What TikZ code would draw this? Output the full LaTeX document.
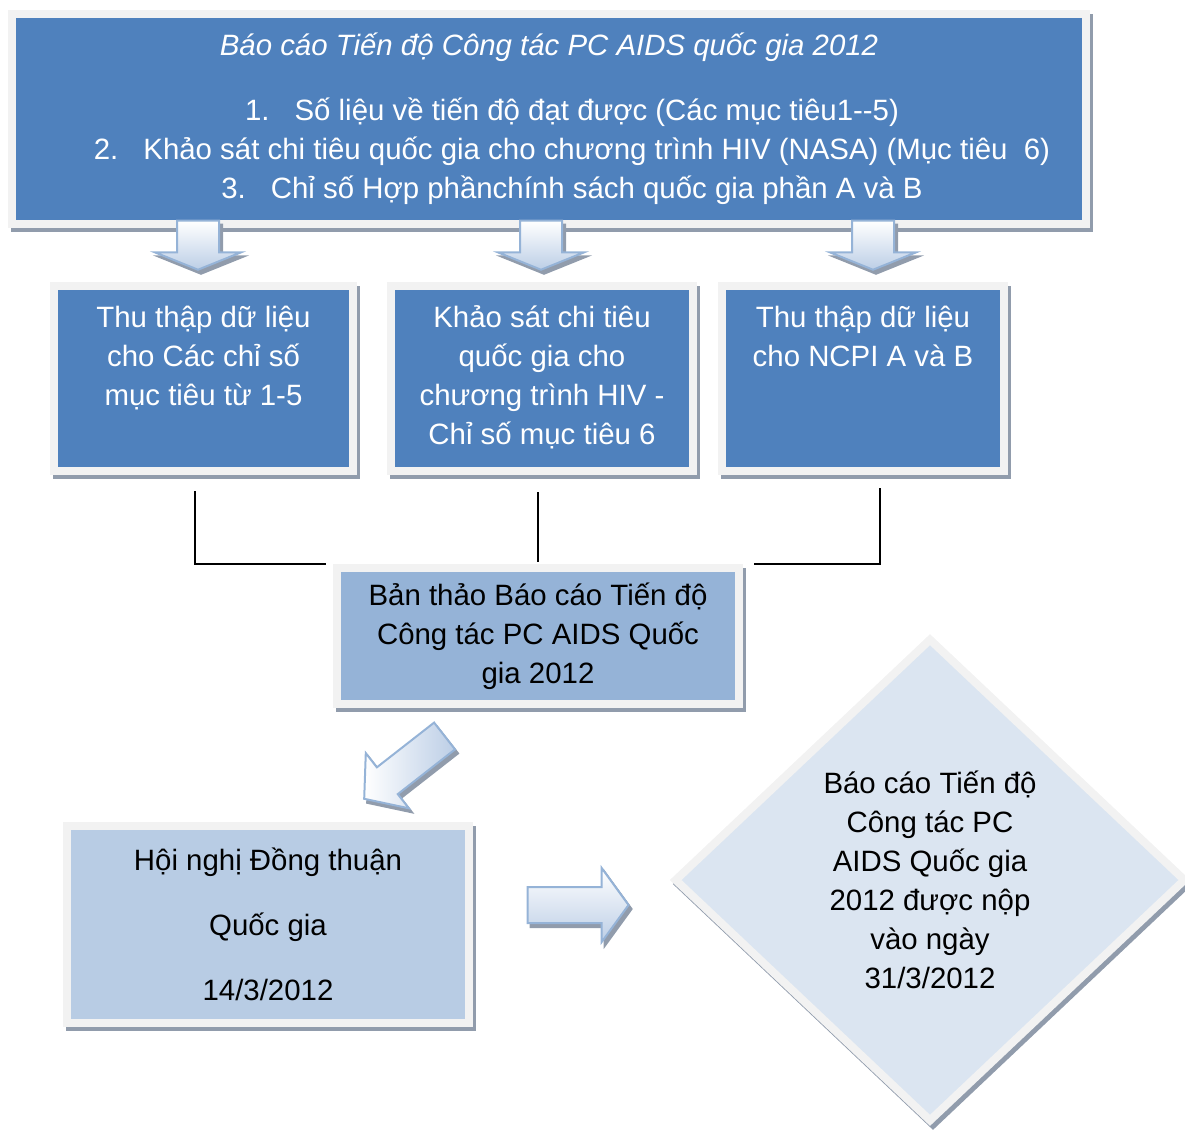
\documentclass[tikz,border=0pt]{standalone}
\usepackage{fontspec}
\setmainfont{Liberation Sans}
\usepackage{xcolor}
\usepackage{tikz}
\usetikzlibrary{shapes,arrows,positioning,calc}

\definecolor{reportblue}{RGB}{79,129,189}
\definecolor{draftblue}{RGB}{149,179,215}
\definecolor{meetblue}{RGB}{184,204,228}
\definecolor{finalblue}{RGB}{219,229,241}
\definecolor{rimgray}{RGB}{242,242,242}
\definecolor{shadegray}{RGB}{145,156,172}
\definecolor{arrowedge}{RGB}{149,179,215}
\definecolor{arrowfill}{RGB}{188,206,230}

\begin{document}
\begin{tikzpicture}[
    x=1pt, y=-1pt,
    box/.style={rectangle, draw=rimgray, line width=8pt, inner sep=0pt,
                font=\fontsize{29.4}{39}\selectfont,
                preaction={draw=shadegray, fill=shadegray, line width=8pt,
                           transform canvas={xshift=3pt, yshift=-4pt}}},
    topbox/.style={box, fill=reportblue, text=white, align=center,
                   minimum width=1074pt, minimum height=210pt},
    midbox/.style={box, fill=reportblue, text=white,
                   execute at begin node={\begin{minipage}[t][185pt][t]{#1}\centering\vspace*{14pt}\strut},
                   execute at end node={\end{minipage}}},
    draftbox/.style={box, fill=draftblue, align=center,
                     minimum width=402pt, minimum height=136pt},
    meetbox/.style={box, fill=meetblue, align=center,
                    minimum width=402pt, minimum height=197pt},
    finalbox/.style={diamond, draw=rimgray, line width=8pt, fill=finalblue, inner sep=0pt,
                     minimum width=512pt, minimum height=484pt, align=center,
                     font=\fontsize{29.4}{39}\selectfont,
                     preaction={draw=shadegray, fill=shadegray, line width=8pt,
                                transform canvas={xshift=3pt, yshift=-4pt}}},
    blockarrow/.style={single arrow, draw=arrowedge, line width=2pt,
                       single arrow head indent=0pt,
                       preaction={draw=shadegray, fill=shadegray, line width=2pt,
                                  transform canvas={xshift=3pt, yshift=-4pt}}},
    downarrow/.style={blockarrow, top color=white, bottom color=arrowfill,
                      shape border rotate=270, inner xsep=20pt, inner ysep=0pt,
                      minimum height=49pt, minimum width=84pt,
                      single arrow head extend=22pt, single arrow tip angle=136},
    link/.style={draw=black, line width=2pt}
]
\useasboundingbox (0,0) rectangle (1185,1135);

\node[topbox] (report) at (549,119) {\textit{Báo cáo Tiến độ Công tác PC AIDS quốc gia 2012}\\[26pt]
    \hspace*{46pt}1.\hspace{25pt}Số liệu về tiến độ đạt được (Các mục tiêu1-{}-5)\\
    \hspace*{46pt}2.\hspace{25pt}Khảo sát chi tiêu quốc gia cho chương trình HIV (NASA) (Mục tiêu\ \ 6)\\
    \hspace*{46pt}3.\hspace{25pt}Chỉ số Hợp phầnchính sách quốc gia phần A và B};

\node[downarrow] (down1) at (198,241) {};
\node[downarrow] (down2) at (541,241) {};
\node[downarrow] (down3) at (873,241) {};

\node[midbox=299pt] (collect1) at (203.5,378.5) {Thu thập dữ liệu\\cho Các chỉ số\\mục tiêu từ 1-5};
\node[midbox=302pt] (survey) at (542,378.5) {Khảo sát chi tiêu\\quốc gia cho\\chương trình HIV -\\Chỉ số mục tiêu 6};
\node[midbox=282pt] (collect2) at (863,378.5) {Thu thập dữ liệu\\cho NCPI A và B};

\node[draftbox] (draft) at (538,636) {Bản thảo Báo cáo Tiến độ\\Công tác PC AIDS Quốc\\gia 2012};

\node[blockarrow, rotate=218, left color=white, right color=arrowfill,
      inner xsep=0pt, inner ysep=16pt, minimum height=102pt, minimum width=68pt,
      single arrow head extend=18pt, single arrow tip angle=100] (diag) at (410,763) {};

\node[meetbox] (meeting) at (268,924.5) {Hội nghị Đồng thuận\\[26pt]Quốc gia\\[26pt]14/3/2012};

\node[blockarrow, top color=white, bottom color=arrowfill,
      inner xsep=0pt, inner ysep=17pt, minimum height=101pt, minimum width=72pt,
      single arrow head extend=19pt, single arrow tip angle=108] (right) at (571.5,905) {};

\node[finalbox] (final) at (930,880) {Báo cáo Tiến độ\\Công tác PC\\AIDS Quốc gia\\2012 được nộp\\vào ngày\\31/3/2012};

\draw[link, shorten <=16pt, shorten >=7pt] ([xshift=-8.5pt]collect1.south) |- (draft.north west);
\draw[link, shorten <=17pt, shorten >=2pt] (draft.north |- survey.south) -- (draft.north);
\draw[link, shorten <=13pt, shorten >=11pt] ([xshift=17pt]collect2.south) |- (draft.north east);
\end{tikzpicture}
\end{document}
